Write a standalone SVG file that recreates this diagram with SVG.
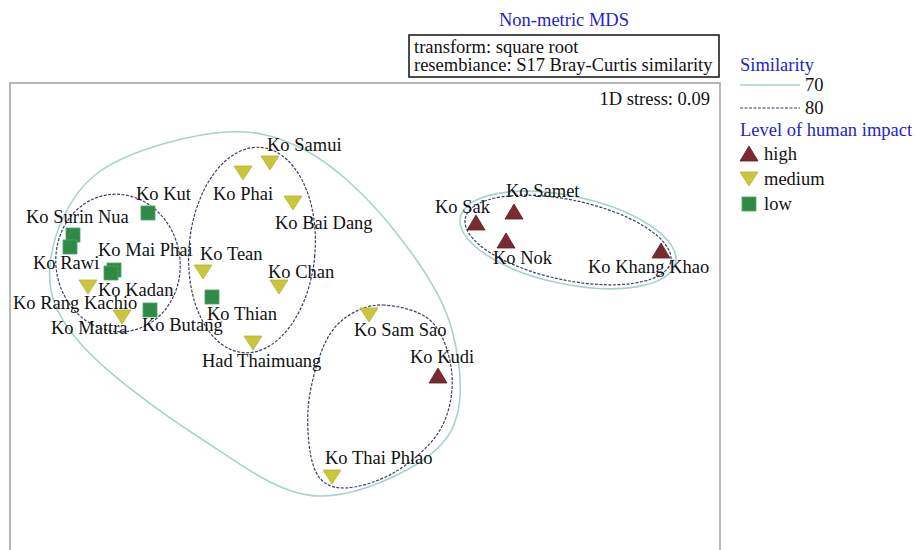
<svg xmlns="http://www.w3.org/2000/svg" xmlns:xlink="http://www.w3.org/1999/xlink" width="916" height="550" viewBox="0 0 916 550">
<style>
text{font-family:"Liberation Serif","Times New Roman",serif;font-size:18.5px;fill:#111}
.blue{fill:#2424c8}
.c70{fill:none;stroke:#a9d2cb;stroke-width:1.6}
.c80{fill:none;stroke:#3b3f66;stroke-width:1.2;stroke-dasharray:3 1.5}
.med{fill:#c8c63a;stroke:#b5b33a;stroke-width:0.8}
.high{fill:#7a2b32;stroke:#5a1d22;stroke-width:0.8}
.low{fill:#2f8a47;stroke:#4fa263;stroke-width:0.8}
</style>
<defs>
<polygon id="td" points="-9,-7 9,-7 0,7"/>
<polygon id="tu" points="0,-8 -9,7 9,7"/>
<rect id="sq" x="-7" y="-7" width="14" height="14"/>
</defs>
<rect width="916" height="550" fill="#fff"/>
<g id="title">
<text class="blue" x="499" y="26">Non-metric MDS</text>
<rect x="409" y="35" width="310" height="42" fill="none" stroke="#111" stroke-width="1.5"/>
<text x="414" y="53">transform: square root</text>
<text x="414" y="71">resembiance: S17 Bray-Curtis similarity</text>
</g>
<rect id="frame" x="10" y="83" width="710" height="480" fill="none" stroke="#a0a0a0" stroke-width="1.5"/>
<text x="710" y="105" text-anchor="end">1D stress: 0.09</text>
<g id="legend">
<text class="blue" x="740" y="71">Similarity</text>
<line x1="740" y1="85" x2="800" y2="85" class="c70"/>
<text x="805" y="91">70</text>
<line x1="740" y1="108" x2="800" y2="108" class="c80"/>
<text x="805" y="114">80</text>
<text class="blue" x="740" y="136">Level of human impact</text>
<use xlink:href="#tu" class="high" x="749" y="154"/>
<text x="764" y="160">high</text>
<use xlink:href="#td" class="med" x="749" y="179"/>
<text x="764" y="185">medium</text>
<use xlink:href="#sq" class="low" x="749" y="204"/>
<text x="764" y="210">low</text>
</g>
<g id="contours">
<path class="c70" d="M215,133 C250,128.8 275.8,134.7 305,150 C334.2,165.3 365.5,195 390,225 C414.5,255 442.8,294.2 452,330 C461.2,365.8 467,412.3 445,440 C423,467.7 360.8,496.3 320,496 C279.2,495.7 240,463.5 200,438 C160,412.5 105,371.8 80,343 C55,314.2 47.5,293 50,265 C52.5,237 67.5,197 95,175 C122.5,153 180,137.2 215,133 Z"/>
<ellipse class="c80" cx="118" cy="263" rx="62" ry="69" transform="rotate(-10 118 263)"/>
<ellipse class="c80" cx="252" cy="250" rx="63" ry="103" transform="rotate(5 252 250)"/>
<path class="c80" d="M383,305 C397.5,305.7 420.5,310.3 432,322 C443.5,333.7 450.7,357 452,375 C453.3,393 449.5,413.8 440,430 C430.5,446.2 411.2,462.3 395,472 C378.8,481.7 356.3,488.3 343,488 C329.7,487.7 320.8,483 315,470 C309.2,457 306.8,430 308,410 C309.2,390 315.8,365.3 322,350 C328.2,334.7 334.8,325.5 345,318 C355.2,310.5 368.5,304.3 383,305 Z"/>
<ellipse class="c70" cx="568" cy="240" rx="110" ry="44" transform="rotate(12 568 240)"/>
<ellipse class="c80" cx="568" cy="240" rx="105" ry="40" transform="rotate(12 568 240)"/>
</g>
<g id="n-samui"><use xlink:href="#td" class="med" x="270" y="163"/><text x="267" y="151">Ko Samui</text></g>
<g id="n-phai"><use xlink:href="#td" class="med" x="243" y="173"/><text x="213" y="200">Ko Phai</text></g>
<g id="n-baidang"><use xlink:href="#td" class="med" x="293" y="203"/><text x="275" y="229">Ko Bai Dang</text></g>
<g id="n-kut"><use xlink:href="#sq" class="low" x="148" y="213"/><text x="136" y="200">Ko Kut</text></g>
<g id="n-surinnua"><use xlink:href="#sq" class="low" x="73" y="235"/><use xlink:href="#sq" class="low" x="70" y="247"/><text x="26" y="223">Ko Surin Nua</text></g>
<g id="n-rawi"><text x="33" y="269">Ko Rawi</text></g>
<g id="n-maiphai"><use xlink:href="#sq" class="low" x="114" y="270"/><use xlink:href="#sq" class="low" x="111" y="273"/><text x="98" y="256">Ko Mai Phai</text></g>
<g id="n-rangkachio"><use xlink:href="#td" class="med" x="88" y="287"/><text x="13" y="309">Ko Rang Kachio</text></g>
<g id="n-kadan"><text x="98" y="296">Ko Kadan</text></g>
<g id="n-mattra"><use xlink:href="#td" class="med" x="122" y="317"/><text x="51" y="334">Ko Mattra</text></g>
<g id="n-butang"><use xlink:href="#sq" class="low" x="150" y="310"/><text x="142" y="331">Ko Butang</text></g>
<g id="n-tean"><use xlink:href="#td" class="med" x="203" y="272"/><text x="200" y="260">Ko Tean</text></g>
<g id="n-thian"><use xlink:href="#sq" class="low" x="212" y="297"/><text x="207" y="320">Ko Thian</text></g>
<g id="n-chan"><use xlink:href="#td" class="med" x="279" y="287"/><text x="268" y="278">Ko Chan</text></g>
<g id="n-hadthaimuang"><use xlink:href="#td" class="med" x="253" y="343"/><text x="202" y="367">Had Thaimuang</text></g>
<g id="n-samsao"><use xlink:href="#td" class="med" x="369" y="315"/><text x="354" y="336">Ko Sam Sao</text></g>
<g id="n-kudi"><use xlink:href="#tu" class="high" x="438" y="376"/><text x="410" y="363">Ko Kudi</text></g>
<g id="n-thaiphlao"><use xlink:href="#td" class="med" x="332" y="477"/><text x="325" y="464">Ko Thai Phlao</text></g>
<g id="n-sak"><use xlink:href="#tu" class="high" x="476" y="223"/><text x="435" y="213">Ko Sak</text></g>
<g id="n-samet"><use xlink:href="#tu" class="high" x="514" y="212"/><text x="506" y="197">Ko Samet</text></g>
<g id="n-nok"><use xlink:href="#tu" class="high" x="506" y="241"/><text x="493" y="264">Ko Nok</text></g>
<g id="n-khangkhao"><use xlink:href="#tu" class="high" x="661" y="251"/><text x="588" y="273">Ko Khang Khao</text></g>
</svg>
